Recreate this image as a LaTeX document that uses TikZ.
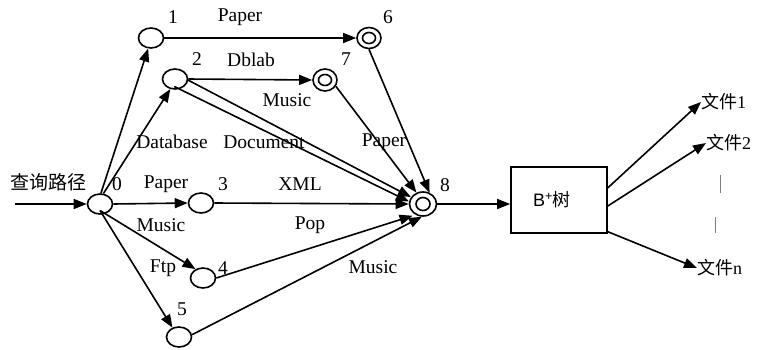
\documentclass[tikz,border=0pt]{standalone}
\usepackage{fontspec}
\setmainfont{Liberation Serif}
\newfontfamily\cjk{Noto Sans CJK SC}
\newfontfamily\arialf{Liberation Sans}
\usetikzlibrary{shapes.geometric,arrows.meta,calc}
\begin{document}
\begin{tikzpicture}[x=1pt,y=-1pt,
  every node/.style={font=\fontsize{19.5}{22}\selectfont, inner sep=0pt},
  st/.style={ellipse, draw, line width=1.6pt, minimum width=25pt, minimum height=20pt},
  inr/.style={ellipse, draw, line width=1.6pt, minimum width=13pt, minimum height=11pt},
  arr/.style={line width=1.6pt, -{Triangle[length=13pt,width=10pt]}},
  cjkl/.style={font=\fontsize{19}{22}\selectfont\cjk},
  filel/.style={font=\fontsize{18}{21}\selectfont, anchor=west},
  bar/.style={line width=1pt, draw=gray}]
\useasboundingbox (0,0) rectangle (763,349);

% states
\node[st] (n0) at (100,204) {};
\node[st] (n1) at (151,38) {};
\node[st] (n2) at (175,79) {};
\node[st] (n3) at (201,203) {};
\node[st] (n4) at (203,278) {};
\node[st] (n5) at (179,337) {};
\node[st, minimum width=24pt, minimum height=21pt] (n6) at (369,38) {};
\node[inr] (i6) at (n6) {};
\node[st, minimum width=24pt, minimum height=22pt] (n7) at (325,80) {};
\node[inr] (i7) at (n7) {};
\node[st, minimum width=27pt, minimum height=24pt] (n8) at (423,204) {};
\node[inr, minimum width=14pt, minimum height=13pt] (i8) at (n8) {};

% B+ tree box
\node[draw, line width=1.6pt, minimum width=96pt, minimum height=66pt] (tree) at (559,200) {};
\node[font=\fontsize{18}{21}\selectfont\arialf] (treel) at (552,200) {B\textsuperscript{+}\cjk 树};

% state labels
\node (l0) at (117,184) {0};
\node (l1) at (173,17) {1};
\node (l2) at (197,59) {2};
\node (l3) at (223,184) {3};
\node (l4) at (223,268) {4};
\node (l5) at (182,309) {5};
\node (l6) at (388,17) {6};
\node (l7) at (346,59) {7};
\node (l8) at (445,185) {8};

% edge labels
\node (e16) at (240,17) {Paper};
\node (e27) at (251,60) {Dblab};
\node (e28m) at (287,100) {Music};
\node (e02) at (172,142) {Database};
\node (e28d) at (264,142) {Document};
\node (e78) at (384,142) {Paper};
\node (e03) at (166,184) {Paper};
\node (e38) at (300,184) {XML};
\node (e04) at (161,225) {Music};
\node (e48) at (310,225) {Pop};
\node (e05) at (163,268) {Ftp};
\node (e58) at (373,267) {Music};

% query path
\node[cjkl] (q) at (48,182) {查询路径};
\coordinate (in) at (15,204);

% file labels
\node[filel] (f1) at (701,102) {{\cjk 文件}1};
\node[filel] (f2) at (706,143) {{\cjk 文件}2};
\node[filel] (fn) at (697,268) {{\cjk 文件}n};

% connectors
\draw[arr] (in) -- (n0.west);
\draw[arr] (n0.85) -- (n1.255);
\draw[arr] (n0.72) -- (n2.245);
\draw[arr] (n0.east) -- (n3.west);
\draw[arr] ($(n0.center)!0.6!(n0.south)$) -- (n4.130);
\draw[arr] ($(n0.center)!0.6!(n0.south)$) -- (n5.125);
\draw[arr] (n1.east) -- (n6.west);
\draw[arr] (n2.east) -- (n7.west);
\draw[arr] (n2.-5) -- (n8.150);
\draw[arr] ($(n2.center)!0.7!(n2.265)$) -- (n8.170);
\draw[arr] (n7.-30) -- (n8.120);
\draw[arr] (n6.south) -- (n8.60);
\draw[arr] (n3.east) -- (n8.west);
\draw[arr, shorten >=3pt] (n4.east) -- (n8.235);
\draw[arr] (n5.10) -- (n8.265);
\draw[arr] (n8.east) -- (n8.east -| tree.west);
\draw[arr] (tree.14) -- (f1.west);
\draw[arr] (tree.-7) -- (f2.west);
\draw[arr] (tree.-33) -- (fn.west);

% ellipsis bars
\draw[bar] (720,175) -- (720,193);
\draw[bar] (715,217) -- (715,233);
\end{tikzpicture}
\end{document}
